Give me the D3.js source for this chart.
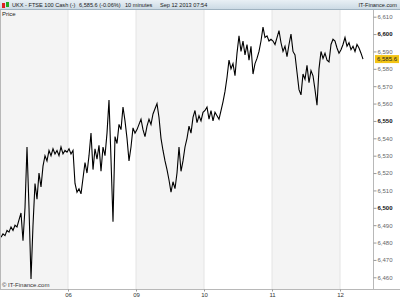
<!DOCTYPE html>
<html>
<head>
<meta charset="utf-8">
<script src="https://cdn.jsdelivr.net/npm/d3@7"></script>
<style>
  body { margin: 0; background: #fff; }
  svg { display: block; font-family: "Liberation Sans", Arial, sans-serif; }
</style>
</head>
<body>
<svg id="chart" width="400" height="300"></svg>
<script>
// day labels (first day has no tick label)
const days = ["05", "06", "09", "10", "11", "12"];

// 10 minute closes, one array per day
const day05 = [6483, 6485, 6484, 6487, 6486, 6489, 6487, 6490, 6489, 6493, 6497, 6481, 6500, 6535, 6500, 6459, 6490,
  6514, 6505, 6520, 6512, 6524, 6530, 6527, 6533, 6530, 6534, 6531, 6533, 6530, 6535, 6531, 6533, 6532];
const day06 = [6534, 6531, 6533, 6514, 6509, 6511, 6508, 6517, 6526, 6520, 6530, 6543, 6522, 6534, 6528, 6536, 6521,
  6535, 6530, 6543, 6562, 6528, 6492, 6541, 6537, 6548, 6545, 6558, 6550, 6540, 6527, 6535, 6546, 6543];
const day09 = [6545, 6548, 6551, 6545, 6541, 6547, 6551, 6548, 6554, 6557, 6560, 6552, 6540, 6533, 6527, 6522, 6516,
  6509, 6515, 6511, 6520, 6535, 6521, 6527, 6535, 6540, 6547, 6543, 6552, 6556, 6549, 6553, 6550, 6555];
const day10 = [6556, 6558, 6551, 6556, 6550, 6555, 6553, 6551, 6556, 6561, 6567, 6575, 6585, 6580, 6583, 6576, 6589,
  6599, 6590, 6596, 6588, 6594, 6585, 6593, 6577, 6583, 6586, 6590, 6596, 6604, 6598, 6599, 6596, 6597];
const day11 = [6596, 6594, 6598, 6602, 6595, 6590, 6593, 6587, 6594, 6600, 6590, 6588, 6578, 6568, 6565, 6577, 6574,
  6582, 6572, 6579, 6576, 6568, 6559, 6580, 6590, 6586, 6589, 6585, 6584, 6594, 6597, 6596, 6592, 6589];
const day12 = [6591, 6594, 6598, 6593, 6595, 6591, 6593, 6590, 6594, 6592, 6589, 6585.6];

const series = [day05, day06, day09, day10, day11, day12];
const lastPrice = 6585.6;
const yTicks = [6460, 6470, 6480, 6490, 6500, 6510, 6520, 6530, 6540, 6550, 6560, 6570, 6580, 6590, 6600, 6610];

const barsPerDay = 34;
const slotsShown = 186;

const svg = d3.select("#chart");
const W = 400, H = 300;
const pLeft = 1, pRight = 373, pTop = 10, pBottom = 289;

const x = d3.scaleLinear().domain([0, slotsShown]).range([pLeft, pRight]);
const y = d3.scaleLinear().domain([6460, 6610]).range([277.3, 16.7]);

// flatten
let pts = [];
series.forEach((arr, d) => arr.forEach((v, j) => pts.push({ i: d * barsPerDay + j, v: v })));

// day bands
series.forEach((arr, d) => {
  const x0 = d === 0 ? pLeft : x(d * barsPerDay - 0.5);
  const x1 = d === series.length - 1 ? pRight : x((d + 1) * barsPerDay - 0.5);
  svg.append("rect")
    .attr("x", x0).attr("y", pTop).attr("width", x1 - x0).attr("height", pBottom - pTop)
    .attr("fill", d % 2 === 0 ? "#f4f4f4" : "#fff");
  if (d > 0) {
    svg.append("line")
      .attr("x1", x0).attr("x2", x0).attr("y1", pTop).attr("y2", pBottom)
      .attr("stroke", "#e4e4e4").attr("stroke-width", 1);
  }
});

// header bar
const grad = svg.append("defs").append("linearGradient").attr("id", "hdr")
  .attr("x1", 0).attr("y1", 0).attr("x2", 0).attr("y2", 1);
grad.append("stop").attr("offset", "0%").attr("stop-color", "#e9f0f5");
grad.append("stop").attr("offset", "100%").attr("stop-color", "#c9d8e3");
svg.append("rect").attr("x", 0).attr("y", 0).attr("width", W).attr("height", pTop).attr("fill", "url(#hdr)");
svg.append("line").attr("x1", 0).attr("x2", W).attr("y1", pTop - 0.5).attr("y2", pTop - 0.5)
  .attr("stroke", "#9fb2c0");

// little candle icon
svg.append("rect").attr("x", 2).attr("y", 3).attr("width", 3).attr("height", 5).attr("fill", "#d22");
svg.append("rect").attr("x", 6).attr("y", 2).attr("width", 3).attr("height", 5).attr("fill", "#2a2");

const hdr = svg.append("g").attr("font-size", "5.6px").attr("fill", "#1a1a1a");
hdr.append("text").attr("x", 12).attr("y", 7.3).text("UKX - FTSE 100 Cash (-)");
hdr.append("text").attr("x", 79).attr("y", 7.3).text("6,585.6 (-0.06%)");
hdr.append("text").attr("x", 125).attr("y", 7.3).text("10 minutes");
hdr.append("text").attr("x", 160).attr("y", 7.3).text("Sep 12 2013 07:54");
hdr.append("text").attr("x", 397).attr("y", 7.3).attr("text-anchor", "end").text("IT-Finance.com");

svg.append("text").attr("x", 2).attr("y", 16).attr("font-size", "6px").attr("fill", "#222").text("Price");
svg.append("text").attr("x", 2).attr("y", 287).attr("font-size", "6px").attr("fill", "#333").text("© IT-Finance.com");

// price line
const line = d3.line().x(d => x(d.i)).y(d => y(d.v));
svg.append("path").datum(pts)
  .attr("d", line).attr("fill", "none").attr("stroke", "#000").attr("stroke-width", 1.1);

// frame
svg.append("line").attr("x1", pLeft - 0.5).attr("x2", pLeft - 0.5).attr("y1", pTop).attr("y2", pBottom).attr("stroke", "#b8b8b8");
svg.append("line").attr("x1", pRight + 0.5).attr("x2", pRight + 0.5).attr("y1", pTop).attr("y2", pBottom).attr("stroke", "#b8b8b8");
svg.append("line").attr("x1", 0).attr("x2", W).attr("y1", pBottom + 0.5).attr("y2", pBottom + 0.5).attr("stroke", "#b8b8b8");

// right axis
const yAxis = d3.axisRight(y).tickValues(yTicks).tickSize(3).tickPadding(1).tickFormat(d3.format(",d"));
const ya = svg.append("g").attr("transform", `translate(${pRight + 0.5},0)`).call(yAxis);
ya.select(".domain").remove();
ya.selectAll("line").attr("stroke", "#999");
ya.selectAll("text").attr("font-size", "6px")
  .attr("fill", d => d % 50 === 0 ? "#111" : "#666")
  .attr("font-weight", d => d % 50 === 0 ? "bold" : "normal");

// current price tag
const yp = y(lastPrice);
svg.append("rect").attr("x", 375).attr("y", yp - 4).attr("width", 24).attr("height", 8).attr("fill", "#f3c516");
svg.append("text").attr("x", 377).attr("y", yp + 2).attr("font-size", "6px").attr("fill", "#222")
  .text(d3.format(",.1f")(lastPrice));

// bottom axis
const tickIdx = d3.range(1, days.length).map(d => d * barsPerDay - 0.5);
const xAxis = d3.axisBottom(x).tickValues(tickIdx).tickSize(2).tickPadding(1)
  .tickFormat((d, k) => days[k + 1]);
const xa = svg.append("g").attr("transform", `translate(0,${pBottom + 0.5})`).call(xAxis);
xa.select(".domain").remove();
xa.selectAll("line").attr("stroke", "#999");
xa.selectAll("text").attr("font-size", "6px").attr("fill", "#333");
</script>
</body>
</html>
